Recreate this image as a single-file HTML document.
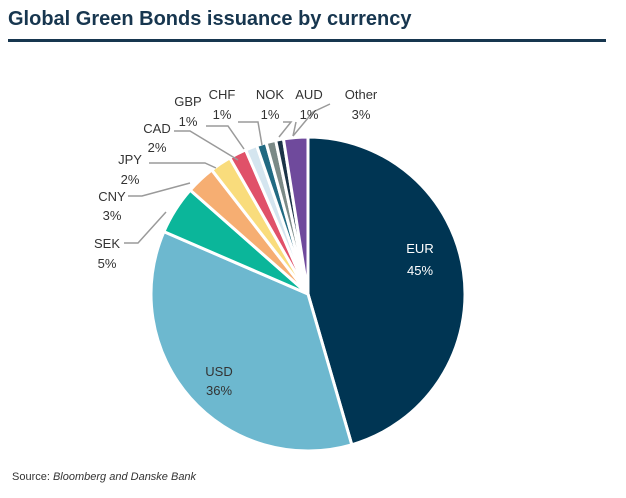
<!DOCTYPE html>
<html><head><style>
body{margin:0;background:#fff;width:626px;height:493px;overflow:hidden;font-family:"Liberation Sans",sans-serif}
</style></head><body>
<svg width="626" height="493" xmlns="http://www.w3.org/2000/svg" font-family="Liberation Sans, sans-serif">
<text x="8" y="25" font-size="20" font-weight="bold" fill="#17364f">Global Green Bonds issuance by currency</text>
<rect x="8" y="39" width="598" height="3" fill="#17364f"/>
<g id="pie" stroke="#fff" stroke-width="3" stroke-linejoin="round"></g>
<g stroke="#9a9a9a" stroke-width="1.5" fill="none">
<polyline points="124,243 138,243 166,212"/>
<polyline points="128,196 142,196 190,183"/>
<polyline points="149,163 205,163 216,168"/>
<polyline points="174,131 190,131 238,160"/>
<polyline points="206,126 228,126 244,149"/>
<polyline points="238,122 258,122 262,145"/>
<polyline points="283,122 291,122 279,137"/>
<polyline points="296,122 293,136"/>
<polyline points="330,104 313,112 293,136"/>
</g>
<g font-size="13" fill="#333" text-anchor="middle">
<text x="420" y="253" fill="#fff">EUR</text><text x="420" y="275" fill="#fff">45%</text>
<text x="219" y="376">USD</text><text x="219" y="395">36%</text>
<text x="107" y="248">SEK</text><text x="107" y="268">5%</text>
<text x="112" y="201">CNY</text><text x="112" y="220">3%</text>
<text x="130" y="164">JPY</text><text x="130" y="184">2%</text>
<text x="157" y="133">CAD</text><text x="157" y="152">2%</text>
<text x="188" y="106">GBP</text><text x="188" y="126">1%</text>
<text x="222" y="99">CHF</text><text x="222" y="119">1%</text>
<text x="270" y="99">NOK</text><text x="270" y="119">1%</text>
<text x="309" y="99">AUD</text><text x="309" y="119">1%</text>
<text x="361" y="99">Other</text><text x="361" y="119">3%</text>
</g>
<text x="12" y="480" font-size="11" fill="#333">Source: <tspan font-style="italic">Bloomberg and Danske Bank</tspan></text>
</svg>
<script>
var d=[[.455,"#003553"],[.36,"#6db8cf"],[.05,"#0bb69a"],[.03,"#f6ae72"],[.022,"#f9dc7c"],[.018,"#e05169"],[.012,"#d4e5ef"],[.01,"#216a82"],[.01,"#7b8a87"],[.008,"#1b3447"],[.025,"#6f4a9c"]];
var cx=308,cy=294,r=157,a=0,s="";
d.forEach(function(p){var a1=a*2*Math.PI,a2=(a+p[0])*2*Math.PI;
var x1=cx+r*Math.sin(a1),y1=cy-r*Math.cos(a1),x2=cx+r*Math.sin(a2),y2=cy-r*Math.cos(a2);
s+='<path fill="'+p[1]+'" d="M'+cx+','+cy+'L'+x1.toFixed(2)+','+y1.toFixed(2)+'A'+r+','+r+' 0 '+(p[0]>.5?1:0)+' 1 '+x2.toFixed(2)+','+y2.toFixed(2)+'Z"/>';a+=p[0];});
document.getElementById("pie").innerHTML=s;
</script>
</body></html>
